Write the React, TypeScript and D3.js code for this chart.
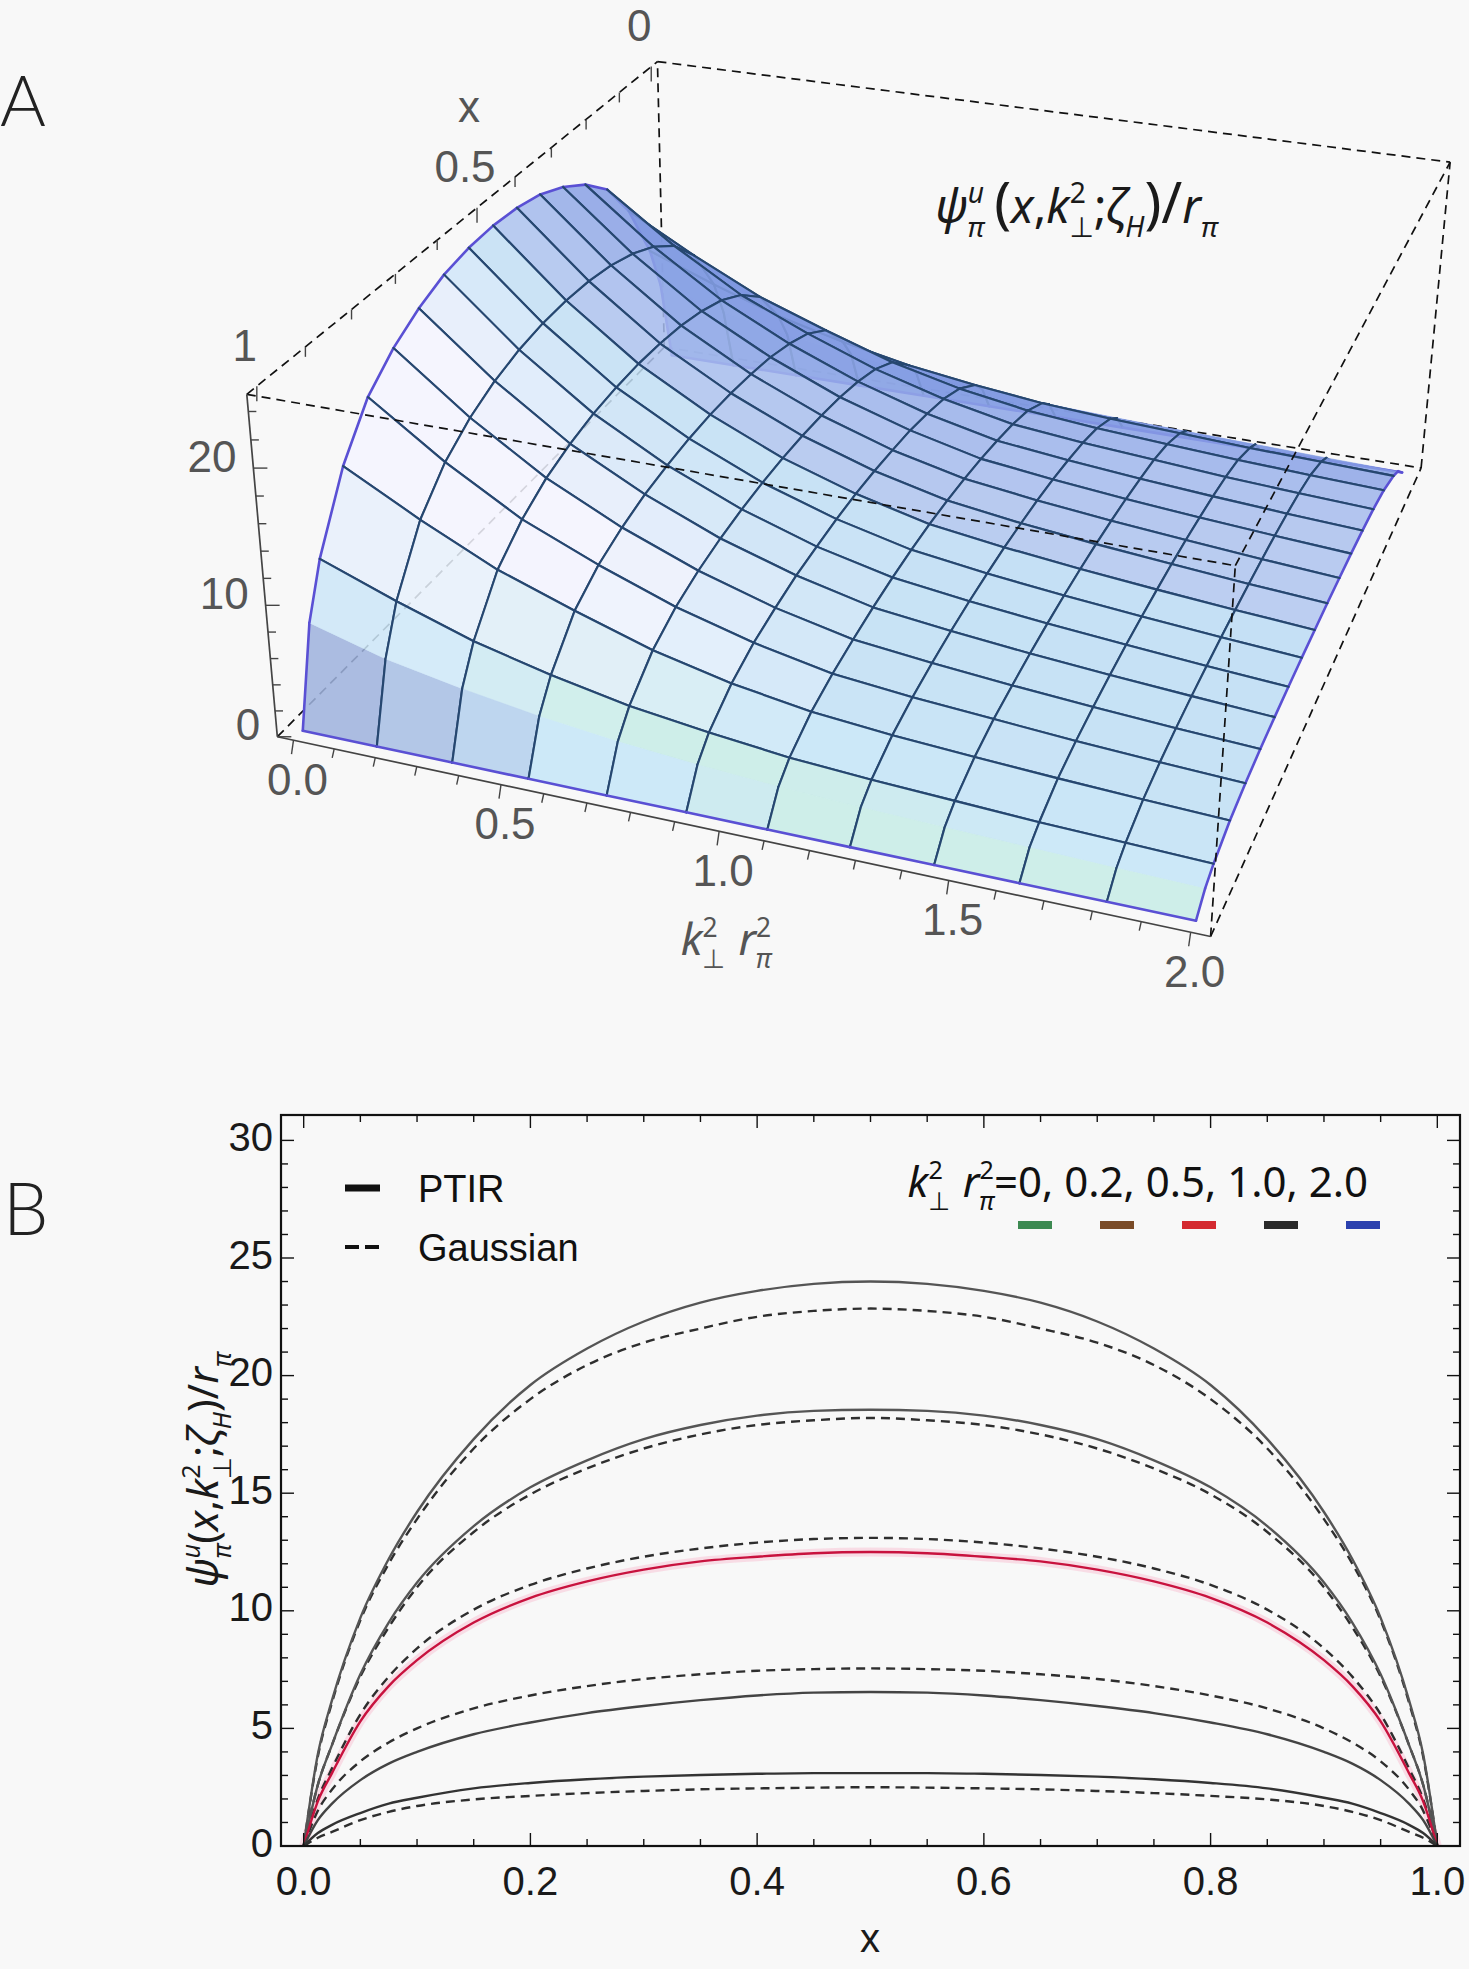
import { useMemo } from "react";
import * as d3 from "d3";

const W = 1469;
const H = 1969;
const BG = "#f8f8f8";
const SANS = "'Liberation Sans', Arial, Helvetica, sans-serif";
const MATH = "'Noto Sans', 'DejaVu Sans', sans-serif";

// ---------------- panel B : curves at fixed k_perp^2 r_pi^2 ----------------
const xs = [0, 0.0125, 0.025, 0.05, 0.075, 0.1, 0.15, 0.2, 0.25, 0.3, 0.35, 0.4, 0.45, 0.5,
  0.55, 0.6, 0.65, 0.7, 0.75, 0.8, 0.85, 0.9, 0.925, 0.95, 0.975, 0.9875, 1];

const ptir0 = [0, 3.9, 6.2, 9.7, 12.2, 14.2, 17.3, 19.6, 21.15, 22.3, 23.1, 23.6, 23.9, 24.0, 23.9, 23.6, 23.1, 22.3, 21.15, 19.6, 17.3, 14.2, 12.2, 9.7, 6.2, 3.9, 0];
const gauss0 = [0, 3.8, 6.1, 9.6, 12.0, 13.9, 16.9, 19.0, 20.45, 21.4, 22.0, 22.5, 22.75, 22.85, 22.75, 22.5, 22.0, 21.4, 20.45, 19.0, 16.9, 13.9, 12.0, 9.6, 6.1, 3.8, 0];
const ptir02 = [0, 2.6, 4.3, 7.3, 9.5, 11.2, 13.6, 15.25, 16.4, 17.3, 17.9, 18.3, 18.5, 18.55, 18.5, 18.3, 17.9, 17.3, 16.4, 15.25, 13.6, 11.2, 9.5, 7.3, 4.3, 2.6, 0];
const gauss02 = [0, 2.6, 4.3, 7.2, 9.3, 11.0, 13.35, 14.95, 16.05, 16.9, 17.5, 17.9, 18.1, 18.2, 18.1, 17.9, 17.5, 16.9, 16.05, 14.95, 13.35, 11.0, 9.3, 7.2, 4.3, 2.6, 0];
const ptir05 = [0, 1.9, 3.1, 5.3, 6.8, 7.9, 9.5, 10.55, 11.25, 11.75, 12.1, 12.3, 12.45, 12.5, 12.45, 12.3, 12.1, 11.75, 11.25, 10.55, 9.5, 7.9, 6.8, 5.3, 3.1, 1.9, 0];
const gauss05 = [0, 2.0, 3.3, 5.6, 7.2, 8.4, 10.05, 11.1, 11.8, 12.3, 12.65, 12.9, 13.05, 13.1, 13.05, 12.9, 12.65, 12.3, 11.8, 11.1, 10.05, 8.4, 7.2, 5.6, 3.3, 2.0, 0];
const ptir10 = [0, 1.1, 1.8, 2.8, 3.5, 4.0, 4.75, 5.25, 5.65, 5.95, 6.2, 6.4, 6.52, 6.55, 6.52, 6.4, 6.2, 5.95, 5.65, 5.25, 4.75, 4.0, 3.5, 2.8, 1.8, 1.1, 0];
const gauss10 = [0, 1.5, 2.4, 3.6, 4.4, 5.0, 5.85, 6.4, 6.8, 7.1, 7.3, 7.45, 7.52, 7.55, 7.52, 7.45, 7.3, 7.1, 6.8, 6.4, 5.85, 5.0, 4.4, 3.6, 2.4, 1.5, 0];
const ptir20 = [0, 0.55, 0.9, 1.4, 1.8, 2.05, 2.45, 2.68, 2.84, 2.95, 3.02, 3.07, 3.1, 3.1, 3.1, 3.07, 3.02, 2.95, 2.84, 2.68, 2.45, 2.05, 1.8, 1.4, 0.9, 0.55, 0];
const gauss20 = [0, 0.35, 0.6, 1.1, 1.45, 1.7, 1.98, 2.13, 2.25, 2.34, 2.41, 2.45, 2.48, 2.5, 2.48, 2.45, 2.41, 2.34, 2.25, 2.13, 1.98, 1.7, 1.45, 1.1, 0.6, 0.35, 0];

const kLegend = ["0", "0.2", "0.5", "1.0", "2.0"];
const kLegendColors = ["#3d8a52", "#7a4b27", "#d42a30", "#2a2a2a", "#2b40ae"];
const ptirSeries = [ptir0, ptir02, ptir05, ptir10, ptir20];
const gaussSeries = [gauss0, gauss02, gauss05, gauss10, gauss20];
const ptirColors = ["#555555", "#555555", "#c8123e", "#444444", "#333333"];

const xTicksB = [0, 0.2, 0.4, 0.6, 0.8, 1.0];
const yTicksB = [0, 5, 10, 15, 20, 25, 30];

// ---------------- panel A : surface psi(x, k^2) ----------------
const kRows = [0, 0.182, 0.364, 0.545, 0.727, 0.909, 1.091, 1.273, 1.455, 1.636, 1.818, 2.0];
const xCols = [0, 0.03125, 0.0625, 0.125, 0.1875, 0.25, 0.3125, 0.375, 0.4375, 0.5,
  0.5625, 0.625, 0.6875, 0.75, 0.8125, 0.875, 0.9375, 0.96875, 1];
const psiA0 = [0, 7.2, 11.0, 16.0, 19.3, 21.2, 22.5, 23.4, 23.85, 24.0, 23.85, 23.4, 22.5, 21.2, 19.3, 16.0, 11.0, 7.2, 0];
const psiA1 = [0, 5.6, 8.9, 13.0, 15.4, 16.9, 17.9, 18.55, 18.9, 19.0, 18.9, 18.55, 17.9, 16.9, 15.4, 13.0, 8.9, 5.6, 0];
const psiA2 = [0, 4.5, 7.0, 10.3, 12.1, 13.3, 14.05, 14.55, 14.8, 14.9, 14.8, 14.55, 14.05, 13.3, 12.1, 10.3, 7.0, 4.5, 0];
const psiA3 = [0, 3.6, 5.6, 8.3, 9.7, 10.55, 11.15, 11.5, 11.72, 11.8, 11.72, 11.5, 11.15, 10.55, 9.7, 8.3, 5.6, 3.6, 0];
const psiA4 = [0, 2.9, 4.45, 6.45, 7.6, 8.3, 8.77, 9.07, 9.24, 9.3, 9.24, 9.07, 8.77, 8.3, 7.6, 6.45, 4.45, 2.9, 0];
const psiA5 = [0, 2.4, 3.65, 5.1, 6.0, 6.55, 6.98, 7.2, 7.38, 7.45, 7.38, 7.2, 6.98, 6.55, 6.0, 5.1, 3.65, 2.4, 0];
const psiA6 = [0, 2.0, 3.0, 4.15, 4.8, 5.25, 5.6, 5.85, 6.0, 6.05, 6.0, 5.85, 5.6, 5.25, 4.8, 4.15, 3.0, 2.0, 0];
const psiA7 = [0, 1.75, 2.6, 3.6, 4.2, 4.6, 4.9, 5.1, 5.2, 5.25, 5.2, 5.1, 4.9, 4.6, 4.2, 3.6, 2.6, 1.75, 0];
const psiA8 = [0, 1.55, 2.3, 3.2, 3.75, 4.05, 4.3, 4.47, 4.57, 4.6, 4.57, 4.47, 4.3, 4.05, 3.75, 3.2, 2.3, 1.55, 0];
const psiA9 = [0, 1.38, 2.0, 2.85, 3.3, 3.6, 3.8, 3.95, 4.03, 4.05, 4.03, 3.95, 3.8, 3.6, 3.3, 2.85, 2.0, 1.38, 0];
const psiA10 = [0, 1.2, 1.8, 2.55, 2.95, 3.2, 3.37, 3.47, 3.53, 3.55, 3.53, 3.47, 3.37, 3.2, 2.95, 2.55, 1.8, 1.2, 0];
const psiA11 = [0, 1.05, 1.6, 2.3, 2.65, 2.85, 2.97, 3.04, 3.09, 3.1, 3.09, 3.04, 2.97, 2.85, 2.65, 2.3, 1.6, 1.05, 0];
const surfaceZ = [psiA0, psiA1, psiA2, psiA3, psiA4, psiA5, psiA6, psiA7, psiA8, psiA9, psiA10, psiA11];
const meshExclude = [0.03125, 0.96875]; // helper columns with no mesh line

const boxX: [number, number] = [-0.02, 1.02];
const boxK: [number, number] = [-0.04, 2.04];
const boxZ: [number, number] = [0, 25.2];

// screen position of the 8 box corners (index into box ranges), used to fit the camera
const boxCorners: { c: [number, number, number]; s: [number, number] }[] = [
  { c: [1, 0, 0], s: [279, 739] },
  { c: [1, 1, 0], s: [1208, 937] },
  { c: [0, 1, 0], s: [1422, 468] },
  { c: [0, 0, 0], s: [664, 345] },
  { c: [1, 0, 1], s: [246, 393] },
  { c: [1, 1, 1], s: [1237, 564] },
  { c: [0, 1, 1], s: [1450, 163] },
  { c: [0, 0, 1], s: [657, 63] },
];

type Proj = (x: number, k: number, z: number) => [number, number, number];

// least squares DLT: 3x4 perspective matrix from corner correspondences
function fitCamera(): Proj {
  const rows: number[][] = [];
  const rhs: number[] = [];
  boxCorners.forEach(({ c, s }) => {
    const [X, Y, Z] = c;
    const u = s[0] / 1000, v = s[1] / 1000;
    rows.push([X, Y, Z, 1, 0, 0, 0, 0, -u * X, -u * Y, -u * Z]); rhs.push(u);
    rows.push([0, 0, 0, 0, X, Y, Z, 1, -v * X, -v * Y, -v * Z]); rhs.push(v);
  });
  const n = 11;
  const M = d3.range(n).map(() => new Array(n + 1).fill(0));
  rows.forEach((r, ri) => {
    for (let i = 0; i < n; i++) {
      for (let j = 0; j < n; j++) M[i][j] += r[i] * r[j];
      M[i][n] += r[i] * rhs[ri];
    }
  });
  for (let c = 0; c < n; c++) {
    let p = c;
    for (let r = c + 1; r < n; r++) if (Math.abs(M[r][c]) > Math.abs(M[p][c])) p = r;
    const tmp = M[c]; M[c] = M[p]; M[p] = tmp;
    for (let r = 0; r < n; r++) {
      if (r === c) continue;
      const f = M[r][c] / M[c][c];
      for (let q = c; q <= n; q++) M[r][q] -= f * M[c][q];
    }
  }
  const a = M.map((r, i) => r[n] / r[i]);
  return (x, k, z) => {
    const X = (x - boxX[0]) / (boxX[1] - boxX[0]);
    const Y = (k - boxK[0]) / (boxK[1] - boxK[0]);
    const Z = (z - boxZ[0]) / (boxZ[1] - boxZ[0]);
    const w = a[8] * X + a[9] * Y + a[10] * Z + 1;
    return [
      (1000 * (a[0] * X + a[1] * Y + a[2] * Z + a[3])) / w,
      (1000 * (a[4] * X + a[5] * Y + a[6] * Z + a[7])) / w,
      w,
    ];
  };
}

const clamp01 = (v: number) => Math.max(0, Math.min(1, v));
const backRamp = d3.scaleLinear<string>()
  .domain([0, 0.2, 1])
  .range(["#b3c8f0", "#8ba3e6", "#5f7ad3"])
  .clamp(true);

// rough imitation of Mathematica's default coloured lighting
function shade(nx: number, ny: number): string {
  if (nx < 0) return backRamp(-nx);
  const base = d3.interpolateRgb("#bddcf4", "#c6e6f8")(clamp01(nx / 0.3));
  const white = clamp01((ny - 0.1) / 0.25) * clamp01(nx / 0.22);
  const mint = clamp01((nx - 0.3) / 0.15) * (1 - clamp01((nx - 0.7) / 0.1)) * (1 - white);
  const steep = clamp01((nx - 0.86) / 0.1);
  let c = d3.interpolateRgb(base, "#c8efdf")(0.7 * mint);
  c = d3.interpolateRgb(c, "#f5f4ff")(white);
  c = d3.interpolateRgb(c, "#9cb0dc")(steep);
  return c;
}

function SurfaceA() {
  const proj = useMemo(fitCamera, []);

  const cells = useMemo(() => {
    const lastR = kRows.length - 1;
    const lastC = xCols.length - 1;
    const rowKind = (j: number) => (j === 0 || j === lastR ? "b" : "m");
    const colKind = (i: number) =>
      i === 0 || i === lastC ? "b" : meshExclude.includes(xCols[i]) ? "n" : "m";
    const out: { pts: [number, number][]; depth: number; fill: string; edges: { a: number; b: number; kind: string }[] }[] = [];
    for (let j = 0; j < lastR; j++) {
      for (let i = 0; i < lastC; i++) {
        const idx: [number, number][] = [[i, j], [i + 1, j], [i + 1, j + 1], [i, j + 1]];
        const p3 = idx.map(([a, b]) => [xCols[a], kRows[b], surfaceZ[b][a]]);
        const pr = p3.map(([x, k, z]) => proj(x, k, z));
        // normal in box-ratio space (1 : 1 : 0.4)
        const S = (p: number[]) => [p[0], p[1] / 2, (0.4 * p[2]) / 25];
        const A = S(p3[0]), B = S(p3[1]), C = S(p3[2]), D = S(p3[3]);
        const d1 = [C[0] - A[0], C[1] - A[1], C[2] - A[2]];
        const d2 = [D[0] - B[0], D[1] - B[1], D[2] - B[2]];
        let nx = d1[1] * d2[2] - d1[2] * d2[1];
        let ny = d1[2] * d2[0] - d1[0] * d2[2];
        let nz = d1[0] * d2[1] - d1[1] * d2[0];
        if (nz < 0) { nx = -nx; ny = -ny; nz = -nz; }
        const len = Math.hypot(nx, ny, nz) || 1;
        out.push({
          pts: pr.map((p) => [p[0], p[1]]),
          depth: d3.mean(pr, (p) => p[2]) || 0,
          fill: shade(nx / len, ny / len),
          edges: [
            { a: 0, b: 1, kind: rowKind(j) },
            { a: 1, b: 2, kind: colKind(i + 1) },
            { a: 2, b: 3, kind: rowKind(j + 1) },
            { a: 3, b: 0, kind: colKind(i) },
          ],
        });
      }
    }
    const farSign = proj(0, 1, 0)[2] > proj(1, 1, 0)[2] ? 1 : -1;
    return out.sort((p, q) => farSign * (q.depth - p.depth));
  }, [proj]);

  const C = (ix: number, ik: number, iz: number) => proj(boxX[ix], boxK[ik], boxZ[iz]);
  const edge = (a: number[], b: number[], key: string, dashed = true, color = "#111") => {
    const p = C(a[0], a[1], a[2]);
    const q = C(b[0], b[1], b[2]);
    return (
      <line key={key} x1={p[0]} y1={p[1]} x2={q[0]} y2={q[1]} stroke={color}
        strokeWidth={1.7} strokeDasharray={dashed ? "9 6" : undefined} />
    );
  };

  const xTicksA = d3.range(0, 1.0001, 0.1);
  const zTicksA = d3.range(0, 24.001, 2);
  const kTicksA = d3.range(0, 2.0001, 0.1);
  const lab = { fontFamily: SANS, fontSize: 44, fill: "#555" };

  return (
    <g>
      {/* box edges hidden behind the surface */}
      {edge([0, 0, 0], [0, 1, 0], "bb")}
      {edge([0, 0, 0], [1, 0, 0], "bl")}
      {edge([0, 0, 0], [0, 0, 1], "vbl")}

      {cells.map((c, ci) => (
        <g key={ci}>
          <polygon points={c.pts.map((p) => p.join(",")).join(" ")} fill={c.fill}
            fillOpacity={0.86} stroke={c.fill} strokeOpacity={0.5} strokeWidth={0.6} />
          {c.edges.filter((e) => e.kind !== "n").map((e, ei) => (
            <line key={ei} x1={c.pts[e.a][0]} y1={c.pts[e.a][1]} x2={c.pts[e.b][0]} y2={c.pts[e.b][1]}
              stroke={e.kind === "b" ? "#5a50d4" : "#264770"} strokeWidth={e.kind === "b" ? 2.6 : 2.1}
              strokeLinecap="round" />
          ))}
        </g>
      ))}

      {/* front / top box edges */}
      {edge([1, 1, 0], [0, 1, 0], "br")}
      {edge([1, 0, 1], [1, 1, 1], "tf")}
      {edge([1, 1, 1], [0, 1, 1], "tr")}
      {edge([0, 0, 1], [0, 1, 1], "tb")}
      {edge([1, 1, 0], [1, 1, 1], "vfr")}
      {edge([0, 1, 0], [0, 1, 1], "vbr")}
      {edge([1, 0, 1], [0, 0, 1], "tl")}
      {edge([1, 0, 0], [1, 0, 1], "vfl", false, "#444")}
      {edge([1, 0, 0], [1, 1, 0], "bf", false, "#444")}

      {/* x axis (top left edge) */}
      {xTicksA.map((t) => {
        const p = proj(t, boxK[0], boxZ[1]);
        const major = Math.abs(t * 2 - Math.round(t * 2)) < 1e-6;
        return <line key={"xt" + t} x1={p[0]} y1={p[1]} x2={p[0]} y2={p[1] + (major ? 15 : 10)} stroke="#444" strokeWidth={1.4} />;
      })}
      {[0, 0.5, 1].map((t) => {
        const p = proj(t, boxK[0], boxZ[1]);
        return <text key={"xl" + t} x={p[0] - 12} y={p[1] - 37} textAnchor="middle" dominantBaseline="middle" {...lab}>{String(t)}</text>;
      })}
      <text x={469} y={110} textAnchor="middle" dominantBaseline="middle" {...lab}>x</text>

      {/* z axis */}
      {zTicksA.map((t) => {
        const p = proj(boxX[1], boxK[0], t);
        const major = t % 10 === 0;
        return <line key={"zt" + t} x1={p[0]} y1={p[1]} x2={p[0] + (major ? 14 : 8)} y2={p[1]} stroke="#444" strokeWidth={1.4} />;
      })}
      {[0, 10, 20].map((t) => {
        const p = proj(boxX[1], boxK[0], t);
        return <text key={"zl" + t} x={p[0] - 17} y={p[1] - 8} textAnchor="end" dominantBaseline="middle" {...lab}>{String(t)}</text>;
      })}

      {/* k^2 axis */}
      {kTicksA.map((t) => {
        const p = proj(boxX[1], t, boxZ[0]);
        const major = Math.abs(t * 2 - Math.round(t * 2)) < 1e-6;
        return <line key={"kt" + t} x1={p[0]} y1={p[1]} x2={p[0] - 2} y2={p[1] + (major ? 14 : 9)} stroke="#444" strokeWidth={1.4} />;
      })}
      {[0, 0.5, 1, 1.5, 2].map((t) => {
        const p = proj(boxX[1], t, boxZ[0]);
        return <text key={"kl" + t} x={p[0] + 4} y={p[1] + 43} textAnchor="middle" dominantBaseline="middle" {...lab}>{d3.format(".1f")(t)}</text>;
      })}
      <text x={726} y={955} textAnchor="middle" fontFamily={MATH} fontSize={44} fill="#555">
        <KLabel fs={44} />
      </text>

      <text x={935} y={223} fontFamily={MATH} fontSize={47} fill="#1a1a1a">
        <PsiLabel fs={47} gap={10} bigParen />
      </text>
    </g>
  );
}

function PsiLabel({ fs, gap = 0, bigParen = false }: { fs: number; gap?: number; bigParen?: boolean }) {
  const s = fs * 0.6;
  const up = fs * 0.42, dn = fs * 0.3;
  const pf = bigParen ? fs * 1.2 : fs;
  return (
    <>
      <tspan fontStyle="italic">ψ</tspan>
      <tspan fontSize={s} dy={-up} fontStyle="italic">u</tspan>
      <tspan fontSize={s} dx={-s * 0.58} dy={up + dn} fontStyle="italic">π</tspan>
      <tspan fontSize={pf} dx={gap} dy={-dn}>(</tspan>
      <tspan fontSize={fs} fontStyle="italic">x</tspan>
      <tspan>,</tspan>
      <tspan fontStyle="italic">k</tspan>
      <tspan fontSize={s} dy={-up}>2</tspan>
      <tspan fontSize={s} dx={-s * 0.58} dy={up + dn}>⊥</tspan>
      <tspan dy={-dn}>;</tspan>
      <tspan fontStyle="italic">ζ</tspan>
      <tspan fontSize={s} dy={dn} fontStyle="italic">H</tspan>
      <tspan fontSize={pf} dy={-dn}>)/</tspan>
      <tspan fontSize={fs} fontStyle="italic">r</tspan>
      <tspan fontSize={s} dy={dn} fontStyle="italic">π</tspan>
    </>
  );
}

function KLabel({ fs, tail }: { fs: number; tail?: string }) {
  const s = fs * 0.6;
  const up = fs * 0.42, dn = fs * 0.3;
  return (
    <>
      <tspan fontStyle="italic">k</tspan>
      <tspan fontSize={s} dy={-up}>2</tspan>
      <tspan fontSize={s} dx={-s * 0.58} dy={up + dn}>⊥</tspan>
      <tspan dy={-dn} dx={fs * 0.3} fontStyle="italic">r</tspan>
      <tspan fontSize={s} dy={-up}>2</tspan>
      <tspan fontSize={s} dx={-s * 0.58} dy={up + dn} fontStyle="italic">π</tspan>
      {tail ? <tspan dy={-dn}>{tail}</tspan> : null}
    </>
  );
}

function PanelB() {
  const left = 281, right = 1460, top = 1115, bottom = 1846;
  const x = d3.scaleLinear().domain([-0.02, 1.02]).range([left, right]);
  const y = d3.scaleLinear().domain([0, 31.08]).range([bottom, top]);
  const line = d3.line<number>().x((_, i) => x(xs[i])).y((d) => y(d)).curve(d3.curveMonotoneX);

  const xMinor = d3.range(0, 1.0001, 0.05);
  const yMinor = d3.range(0, 31, 1);

  return (
    <g>
      {/* curves */}
      <path d={line(ptir05) || ""} fill="none" stroke="#f9c9d8" strokeWidth={9} strokeOpacity={0.6} />
      {gaussSeries.map((g, i) => (
        <path key={"g" + i} d={line(g) || ""} fill="none" stroke="#2e2e2e" strokeWidth={2.4} strokeDasharray="9 6" />
      ))}
      {ptirSeries.map((p, i) => (
        <path key={"p" + i} d={line(p) || ""} fill="none" stroke={ptirColors[i]} strokeWidth={2.4} />
      ))}

      {/* frame */}
      <rect x={left} y={top} width={right - left} height={bottom - top} fill="none" stroke="#111" strokeWidth={2.2} />

      {/* ticks */}
      {xMinor.map((t) => {
        const major = Math.abs(t * 5 - Math.round(t * 5)) < 1e-6;
        const L = major ? 13 : 7;
        return (
          <g key={"xb" + t}>
            <line x1={x(t)} x2={x(t)} y1={bottom} y2={bottom - L} stroke="#111" strokeWidth={1.4} />
            <line x1={x(t)} x2={x(t)} y1={top} y2={top + L} stroke="#111" strokeWidth={1.4} />
          </g>
        );
      })}
      {yMinor.map((t) => {
        const major = t % 5 === 0;
        const L = major ? 13 : 7;
        return (
          <g key={"yb" + t}>
            <line x1={left} x2={left + L} y1={y(t)} y2={y(t)} stroke="#111" strokeWidth={1.4} />
            <line x1={right} x2={right - L} y1={y(t)} y2={y(t)} stroke="#111" strokeWidth={1.4} />
          </g>
        );
      })}
      {xTicksB.map((t) => (
        <text key={"xl" + t} x={x(t)} y={bottom + 49} textAnchor="middle" fontFamily={SANS} fontSize={40} fill="#1a1a1a">
          {d3.format(".1f")(t)}
        </text>
      ))}
      {yTicksB.map((t) => (
        <text key={"yl" + t} x={left - 8} y={y(t)} textAnchor="end" dominantBaseline="middle" fontFamily={SANS} fontSize={40} fill="#1a1a1a">
          {t}
        </text>
      ))}
      <text x={870} y={1952} textAnchor="middle" fontFamily={SANS} fontSize={40} fill="#1a1a1a">x</text>
      <text transform="translate(218,1470) rotate(-90)" textAnchor="middle" fontFamily={MATH} fontSize={42} fill="#1a1a1a">
        <PsiLabel fs={42} />
      </text>

      {/* legend: model */}
      <line x1={345} x2={380} y1={1188} y2={1188} stroke="#111" strokeWidth={7} />
      <text x={418} y={1202} fontFamily={SANS} fontSize={38} fill="#111">PTIR</text>
      <line x1={345} x2={380} y1={1247} y2={1247} stroke="#111" strokeWidth={4} strokeDasharray="14 6" />
      <text x={418} y={1261} fontFamily={SANS} fontSize={38} fill="#111">Gaussian</text>

      {/* legend: k values */}
      <text x={1368} y={1197} textAnchor="end" fontFamily={MATH} fontSize={42} fill="#111">
        <KLabel fs={42} tail={"=" + kLegend.join(", ")} />
      </text>
      {kLegendColors.map((c, i) => (
        <line key={"kc" + i} x1={1018 + i * 82} x2={1052 + i * 82} y1={1225} y2={1225} stroke={c} strokeWidth={8} />
      ))}
    </g>
  );
}

export default function App() {
  return (
    <svg width={W} height={H} style={{ position: "absolute", left: 0, top: 0 }}>
      <rect x={0} y={0} width={W} height={H} fill={BG} />
      <text x={0} y={126} fontFamily="Lato, 'Liberation Sans', sans-serif" fontWeight={300} fontSize={70} fill="#222">A</text>
      <text x={3} y={1235} fontFamily="Lato, 'Liberation Sans', sans-serif" fontWeight={300} fontSize={72} fill="#222">B</text>
      <SurfaceA />
      <PanelB />
    </svg>
  );
}
